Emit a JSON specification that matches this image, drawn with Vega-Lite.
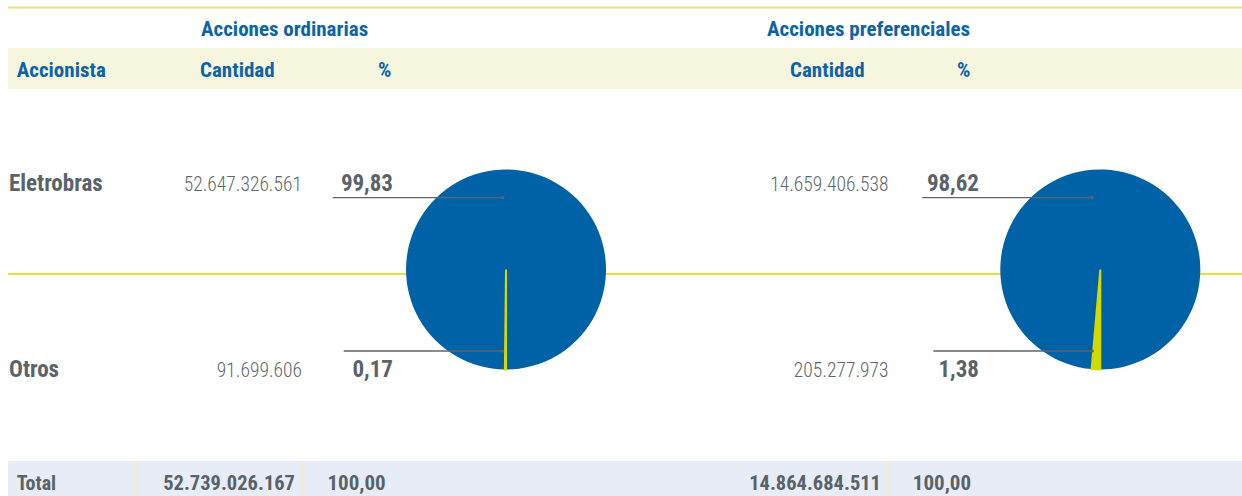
{
  "$schema": "https://vega.github.io/schema/vega-lite/v6.json",
  "width": 1234,
  "height": 496,
  "autosize": {"type": "none"},
  "padding": {"left": 8, "top": 0, "right": 0, "bottom": 0},
  "background": "white",
  "config": {
    "view": {"stroke": null},
    "font": "Roboto Condensed, DejaVu Sans Condensed, Roboto, sans-serif",
    "locale": {"number": {"decimal": ",", "thousands": ".", "grouping": [3], "currency": ["", ""]}}
  },
  "datasets": {
    "acciones": [
      {"accionista": "Eletrobras", "clase": "Acciones ordinarias", "cantidad": 52647326561, "pct": 99.83},
      {"accionista": "Otros", "clase": "Acciones ordinarias", "cantidad": 91699606, "pct": 0.17},
      {"accionista": "Eletrobras", "clase": "Acciones preferenciales", "cantidad": 14659406538, "pct": 98.62},
      {"accionista": "Otros", "clase": "Acciones preferenciales", "cantidad": 205277973, "pct": 1.38}
    ],
    "etiquetas": [
      {"texto": "Accionista", "fila": "Encabezado"},
      {"texto": "Total", "fila": "Total"}
    ]
  },
  "resolve": {"scale": {"x": "independent", "y": "independent", "color": "independent"}},
  "layer": [
    {
      "data": {"name": "etiquetas"},
      "transform": [{"filter": "datum.fila === 'Encabezado'"}],
      "mark": {"type": "rect", "color": "#f6f6de"},
      "encoding": {
        "y": {"field": "fila", "type": "nominal", "axis": null, "scale": {"type": "band", "domain": ["Encabezado"], "range": [48, 89], "paddingInner": 0, "paddingOuter": 0}}
      }
    },
    {
      "data": {"name": "etiquetas"},
      "transform": [{"filter": "datum.fila === 'Total'"}],
      "mark": {"type": "rect", "color": "#e8ecf7"},
      "encoding": {
        "y": {"field": "fila", "type": "nominal", "axis": null, "scale": {"type": "band", "domain": ["Total"], "range": [461, 496], "paddingInner": 0, "paddingOuter": 0}}
      }
    },
    {
      "data": {"name": "etiquetas"},
      "transform": [{"filter": "datum.fila === 'Encabezado'"}],
      "mark": {"type": "rule", "color": "#e6e47c", "strokeWidth": 2},
      "encoding": {
        "y": {"field": "fila", "type": "nominal", "axis": null, "scale": {"type": "point", "domain": ["Encabezado"], "range": [7.5, 7.5], "padding": 0}}
      }
    },
    {
      "data": {"name": "acciones"},
      "transform": [{"filter": "datum.accionista === 'Eletrobras' && datum.clase === 'Acciones ordinarias'"}],
      "mark": {"type": "rule", "color": "#d5d900", "strokeWidth": 1.5},
      "encoding": {
        "y": {"field": "accionista", "type": "nominal", "axis": null, "scale": {"type": "point", "domain": ["Eletrobras"], "range": [274, 274], "padding": 0}}
      }
    },
    {
      "data": {"name": "acciones"},
      "transform": [{"aggregate": [{"op": "sum", "field": "cantidad", "as": "cantidad"}, {"op": "sum", "field": "pct", "as": "pct"}], "groupby": ["clase"]}],
      "mark": {"type": "rule", "color": "#f2eec6", "strokeWidth": 2, "y2Offset": 35},
      "encoding": {
        "x": {"field": "clase", "type": "nominal", "axis": null, "scale": {"type": "point", "domain": ["Acciones ordinarias", "Acciones preferenciales"], "range": [295.3, 881], "padding": 0}},
        "y": {"field": "clase", "type": "nominal", "axis": null, "scale": {"type": "point", "domain": ["Acciones ordinarias", "Acciones preferenciales"], "range": [461, 461], "padding": 0}},
        "y2": {"field": "clase"}
      }
    },
    {
      "data": {"name": "etiquetas"},
      "transform": [{"filter": "datum.fila === 'Total'"}],
      "mark": {"type": "rule", "color": "#f2eec6", "strokeWidth": 2, "y2Offset": 35},
      "encoding": {
        "x": {"field": "fila", "type": "nominal", "axis": null, "scale": {"type": "point", "domain": ["Total"], "range": [128.7, 128.7], "padding": 0}},
        "y": {"field": "fila", "type": "nominal", "axis": null, "scale": {"type": "point", "domain": ["Total"], "range": [461, 461], "padding": 0}},
        "y2": {"field": "fila"}
      }
    },
    {
      "data": {"name": "acciones"},
      "transform": [{"stack": "pct", "groupby": ["clase"], "sort": [{"field": "accionista", "order": "descending"}], "as": ["p0", "p1"]}],
      "mark": {"type": "arc", "outerRadius": 100, "stroke": "#d4d900", "strokeJoin": "miter"},
      "encoding": {
        "x": {"field": "clase", "type": "nominal", "axis": null, "scale": {"type": "point", "domain": ["Acciones ordinarias", "Acciones preferenciales"], "range": [498, 1092.3], "padding": 0}},
        "y": {"field": "clase", "type": "nominal", "axis": null, "scale": {"type": "point", "domain": ["Acciones ordinarias", "Acciones preferenciales"], "range": [269.5, 269.5], "padding": 0}},
        "theta": {"field": "p0", "type": "quantitative", "stack": null, "scale": {"type": "linear", "domain": [0, 100], "range": [3.14159265, 9.42477796]}},
        "theta2": {"field": "p1"},
        "color": {"field": "accionista", "type": "nominal", "legend": null, "scale": {"domain": ["Eletrobras", "Otros"], "range": ["#0062a6", "#d4d900"]}},
        "strokeWidth": {"condition": {"test": "datum.accionista === 'Otros'", "value": 2}, "value": 0}
      }
    },
    {
      "data": {"name": "acciones"},
      "transform": [{"filter": "datum.accionista === 'Eletrobras'"}],
      "mark": {"type": "rule", "color": "#5d666a", "strokeWidth": 1.3, "x2Offset": -170},
      "encoding": {
        "x": {"field": "clase", "type": "nominal", "axis": null, "scale": {"type": "point", "domain": ["Acciones ordinarias", "Acciones preferenciales"], "range": [494.7, 1084.3], "padding": 0}},
        "x2": {"field": "clase"},
        "y": {"field": "accionista", "type": "nominal", "axis": null, "scale": {"type": "point", "domain": ["Eletrobras", "Otros"], "range": [197.7, 351], "padding": 0}}
      }
    },
    {
      "data": {"name": "acciones"},
      "transform": [{"filter": "datum.accionista === 'Otros'"}],
      "mark": {"type": "rule", "color": "#5d666a", "strokeWidth": 1.3, "x2Offset": -159},
      "encoding": {
        "x": {"field": "clase", "type": "nominal", "axis": null, "scale": {"type": "point", "domain": ["Acciones ordinarias", "Acciones preferenciales"], "range": [494.7, 1084.3], "padding": 0}},
        "x2": {"field": "clase"},
        "y": {"field": "accionista", "type": "nominal", "axis": null, "scale": {"type": "point", "domain": ["Eletrobras", "Otros"], "range": [197.7, 351], "padding": 0}}
      }
    },
    {
      "data": {"name": "acciones"},
      "mark": {"type": "circle", "color": "#5d666a", "size": 10, "opacity": 1},
      "encoding": {
        "x": {"field": "clase", "type": "nominal", "axis": null, "scale": {"type": "point", "domain": ["Acciones ordinarias", "Acciones preferenciales"], "range": [494.7, 1084.3], "padding": 0}},
        "y": {"field": "accionista", "type": "nominal", "axis": null, "scale": {"type": "point", "domain": ["Eletrobras", "Otros"], "range": [197.7, 351], "padding": 0}}
      }
    },
    {
      "data": {"name": "acciones"},
      "transform": [{"aggregate": [{"op": "sum", "field": "cantidad", "as": "cantidad"}, {"op": "sum", "field": "pct", "as": "pct"}], "groupby": ["clase"]}],
      "mark": {"type": "text", "align": "left", "baseline": "alphabetic", "fontSize": 21, "fontWeight": "bold", "color": "#0d63a9"},
      "encoding": {
        "text": {"field": "clase", "type": "nominal"},
        "x": {"field": "clase", "type": "nominal", "axis": null, "scale": {"type": "point", "domain": ["Acciones ordinarias", "Acciones preferenciales"], "range": [193, 759], "padding": 0}},
        "y": {"field": "clase", "type": "nominal", "axis": null, "scale": {"type": "point", "domain": ["Acciones ordinarias", "Acciones preferenciales"], "range": [36, 36], "padding": 0}}
      }
    },
    {
      "data": {"name": "acciones"},
      "transform": [{"aggregate": [{"op": "sum", "field": "cantidad", "as": "cantidad"}, {"op": "sum", "field": "pct", "as": "pct"}], "groupby": ["clase"]}],
      "mark": {"type": "text", "align": "left", "baseline": "alphabetic", "fontSize": 21, "fontWeight": "bold", "color": "#0d63a9"},
      "encoding": {
        "text": {"value": "Cantidad"},
        "x": {"field": "clase", "type": "nominal", "axis": null, "scale": {"type": "point", "domain": ["Acciones ordinarias", "Acciones preferenciales"], "range": [192, 782], "padding": 0}},
        "y": {"field": "clase", "type": "nominal", "axis": null, "scale": {"type": "point", "domain": ["Acciones ordinarias", "Acciones preferenciales"], "range": [76.7, 76.7], "padding": 0}}
      }
    },
    {
      "data": {"name": "acciones"},
      "transform": [{"aggregate": [{"op": "sum", "field": "cantidad", "as": "cantidad"}, {"op": "sum", "field": "pct", "as": "pct"}], "groupby": ["clase"]}],
      "mark": {"type": "text", "align": "left", "baseline": "alphabetic", "fontSize": 21, "fontWeight": "bold", "color": "#0d63a9"},
      "encoding": {
        "text": {"value": "%"},
        "x": {"field": "clase", "type": "nominal", "axis": null, "scale": {"type": "point", "domain": ["Acciones ordinarias", "Acciones preferenciales"], "range": [370, 949], "padding": 0}},
        "y": {"field": "clase", "type": "nominal", "axis": null, "scale": {"type": "point", "domain": ["Acciones ordinarias", "Acciones preferenciales"], "range": [76.7, 76.7], "padding": 0}}
      }
    },
    {
      "data": {"name": "etiquetas"},
      "mark": {"type": "text", "align": "left", "baseline": "alphabetic", "fontSize": 21, "fontWeight": "bold"},
      "encoding": {
        "text": {"field": "texto", "type": "nominal"},
        "x": {"field": "fila", "type": "nominal", "axis": null, "scale": {"type": "point", "domain": ["Encabezado", "Total"], "range": [8.7, 8.7], "padding": 0}},
        "y": {"field": "fila", "type": "nominal", "axis": null, "scale": {"type": "point", "domain": ["Encabezado", "Total"], "range": [76.7, 490], "padding": 0}},
        "color": {"condition": {"test": "datum.fila === 'Total'", "value": "#596368"}, "value": "#0d63a9"},
        "size": {"condition": {"test": "datum.fila === 'Total'", "value": 20}, "value": 21}
      }
    },
    {
      "data": {"name": "acciones"},
      "transform": [{"filter": "datum.clase === 'Acciones ordinarias'"}],
      "mark": {"type": "text", "align": "left", "baseline": "alphabetic", "fontSize": 23, "fontWeight": "bold", "color": "#596368"},
      "encoding": {
        "text": {"field": "accionista", "type": "nominal"},
        "x": {"field": "clase", "type": "nominal", "axis": null, "scale": {"type": "point", "domain": ["Acciones ordinarias"], "range": [1, 1], "padding": 0}},
        "y": {"field": "accionista", "type": "nominal", "axis": null, "scale": {"type": "point", "domain": ["Eletrobras", "Otros"], "range": [190.7, 376.7], "padding": 0}}
      }
    },
    {
      "data": {"name": "acciones"},
      "mark": {"type": "text", "align": "right", "baseline": "alphabetic", "fontSize": 19.5, "fontWeight": 300, "color": "#5f686c"},
      "encoding": {
        "text": {"field": "cantidad", "type": "quantitative", "format": ",d"},
        "x": {"field": "clase", "type": "nominal", "axis": null, "scale": {"type": "point", "domain": ["Acciones ordinarias", "Acciones preferenciales"], "range": [294, 880.5], "padding": 0}},
        "y": {"field": "accionista", "type": "nominal", "axis": null, "scale": {"type": "point", "domain": ["Eletrobras", "Otros"], "range": [190.7, 376.7], "padding": 0}}
      }
    },
    {
      "data": {"name": "acciones"},
      "mark": {"type": "text", "align": "right", "baseline": "alphabetic", "fontSize": 23, "fontWeight": "bold", "color": "#596368"},
      "encoding": {
        "text": {"field": "pct", "type": "quantitative", "format": ".2f"},
        "x": {"field": "clase", "type": "nominal", "axis": null, "scale": {"type": "point", "domain": ["Acciones ordinarias", "Acciones preferenciales"], "range": [385, 971], "padding": 0}},
        "y": {"field": "accionista", "type": "nominal", "axis": null, "scale": {"type": "point", "domain": ["Eletrobras", "Otros"], "range": [190.7, 376.7], "padding": 0}}
      }
    },
    {
      "data": {"name": "acciones"},
      "transform": [{"aggregate": [{"op": "sum", "field": "cantidad", "as": "cantidad"}, {"op": "sum", "field": "pct", "as": "pct"}], "groupby": ["clase"]}],
      "mark": {"type": "text", "align": "right", "baseline": "alphabetic", "fontSize": 20.5, "fontWeight": "bold", "color": "#596368"},
      "encoding": {
        "text": {"field": "cantidad", "type": "quantitative", "format": ",d"},
        "x": {"field": "clase", "type": "nominal", "axis": null, "scale": {"type": "point", "domain": ["Acciones ordinarias", "Acciones preferenciales"], "range": [287, 873], "padding": 0}},
        "y": {"field": "clase", "type": "nominal", "axis": null, "scale": {"type": "point", "domain": ["Acciones ordinarias", "Acciones preferenciales"], "range": [490, 490], "padding": 0}}
      }
    },
    {
      "data": {"name": "acciones"},
      "transform": [{"aggregate": [{"op": "sum", "field": "cantidad", "as": "cantidad"}, {"op": "sum", "field": "pct", "as": "pct"}], "groupby": ["clase"]}],
      "mark": {"type": "text", "align": "right", "baseline": "alphabetic", "fontSize": 21, "fontWeight": "bold", "color": "#596368"},
      "encoding": {
        "text": {"field": "pct", "type": "quantitative", "format": ".2f"},
        "x": {"field": "clase", "type": "nominal", "axis": null, "scale": {"type": "point", "domain": ["Acciones ordinarias", "Acciones preferenciales"], "range": [377.7, 963], "padding": 0}},
        "y": {"field": "clase", "type": "nominal", "axis": null, "scale": {"type": "point", "domain": ["Acciones ordinarias", "Acciones preferenciales"], "range": [490, 490], "padding": 0}}
      }
    }
  ]
}
